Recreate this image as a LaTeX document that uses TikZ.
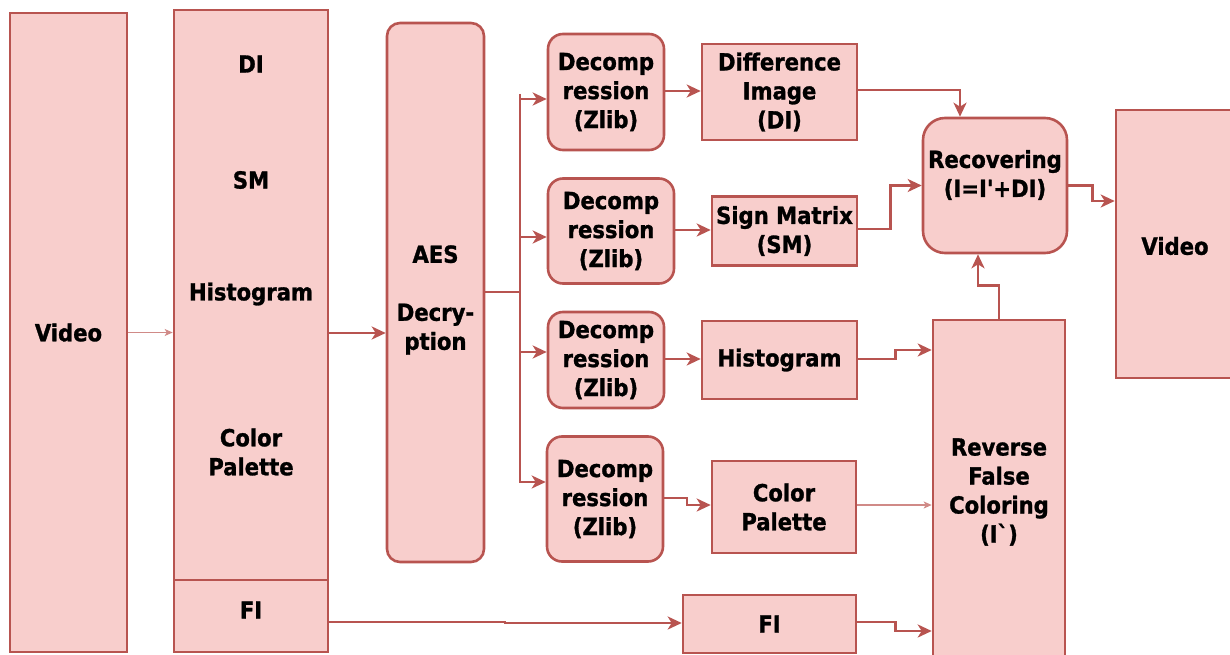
\documentclass[tikz,border=0pt]{standalone}
\usepackage{fontspec}
\newfontfamily\djfont{DejaVu Sans Condensed}[BoldFeatures={FakeBold=1.2}]
\usetikzlibrary{arrows.meta}
\definecolor{fillc}{HTML}{F8CECC}
\definecolor{linec}{HTML}{B85450}
\definecolor{thinc}{HTML}{D08A87}
\begin{document}
\begin{tikzpicture}[x=1pt,y=-1pt,
  every node/.style={font=\djfont\fontsize{23.5}{29}\selectfont\bfseries, align=center, inner sep=0pt},
  rbox/.style={draw=linec, fill=fillc, line width=2.6pt},
  rrbox/.style={rbox, rounded corners=15pt},
  conn/.style={draw=linec, line width=2.6pt, -{Stealth[length=14pt,width=13pt,inset=4pt]}},
  plain/.style={draw=linec, line width=2.6pt},
  thinconn/.style={draw=thinc, line width=1.2pt, -{Stealth[length=8pt,width=7pt,inset=2pt]}}]
\useasboundingbox (0,0) rectangle (1230,655);
\clip (0,0) rectangle (1230,655);
% left video
\node[rbox, minimum width=117pt, minimum height=639pt] (vin) at (68.5,332.5) {Video};
% source stack
\node[rbox, minimum width=154pt, minimum height=570pt] (src) at (251,295) {};
\node[rbox, minimum width=154pt, minimum height=72pt] (fi) at (251,616) {};
\node (fit) at (251,610) {FI};
\node (ldi) at (251,64) {DI};
\node (lsm) at (251,180) {SM};
\node (lhi) at (251,294) {Histogram};
\node (lcp) at (251,452) {Color\\Palette};
% AES
\node[rrbox, rounded corners=13pt, minimum width=97pt, minimum height=539pt] (aes) at (435.5,292.5) {};
\node (aest) at (435.5,300) {AES\\[29pt]Decry-\\ption};
% decompression
\node[rrbox, minimum width=116pt, minimum height=116pt] (d1) at (606,92) {Decomp\\ression\\(Zlib)};
\node[rrbox, minimum width=126pt, minimum height=105pt] (d2) at (611,231) {Decomp\\ression\\(Zlib)};
\node[rrbox, minimum width=116pt, minimum height=96pt] (d3) at (606,360) {Decomp\\ression\\(Zlib)};
\node[rrbox, minimum width=116pt, minimum height=125pt] (d4) at (605,499) {Decomp\\ression\\(Zlib)};
% outputs
\node[rbox, minimum width=155pt, minimum height=96pt] (di) at (779.5,92) {Difference\\Image\\(DI)};
\node[rbox, minimum width=145pt, minimum height=69pt] (sm) at (784.5,231) {Sign Matrix\\(SM)};
\node[rbox, minimum width=155pt, minimum height=78pt] (hist) at (779.5,360) {Histogram};
\node[rbox, minimum width=144pt, minimum height=92pt] (cp) at (784,507) {Color\\Palette};
\node[rbox, minimum width=173pt, minimum height=58pt] (fi2) at (769.5,624) {FI};
% recovering
\node[rrbox, rounded corners=22pt, minimum width=144pt, minimum height=135pt] (rec) at (995,185.5) {};
\node (rect) at (995,175) {Recovering\\(I=I'+DI)};
% reverse false coloring
\node[rbox, minimum width=132pt, minimum height=350pt] (rfc) at (999,495) {};
\node (rfct) at (999,492) {Reverse\\False\\Coloring\\(I`)};
% output video
\node[rbox, minimum width=115pt, minimum height=268pt] (vout) at (1173.5,244) {};
\node (voutt) at (1175,246) {Video};
% connectors
\coordinate (bus) at (520,292);
\draw[thinconn] (vin.east) -- (vin.east -| src.west);
\draw[conn] (src.east |- 0,333) -- (aes.west |- 0,333);
\draw[plain] (aes.east |- bus) -- (bus);
\draw[plain] (520,94) -- (520,99);
\draw[conn] (bus) |- (d1.west |- 0,99);
\draw[conn] (bus) |- (d2.west |- 0,237);
\draw[conn] (bus) |- (d3.west |- 0,352);
\draw[conn] (bus) |- (d4.west |- 0,482);
\draw[conn] (d1.east |- 0,91) -- (di.west |- 0,91);
\draw[conn] (d2.east |- 0,230) -- (sm.west |- 0,230);
\draw[conn] (d3.east |- 0,359) -- (hist.west |- 0,359);
\draw[conn] (d4.east |- 0,498) -- (687,498) |- (cp.west |- 0,505);
\draw[conn] (di.east |- 0,90) -| ([xshift=-35pt]rec.north);
\draw[conn] (sm.east |- 0,229) -- ++(32,0) |- (rec.west);
\draw[conn] (rec.east) -- ++(24,0) |- ([yshift=43pt]vout.west);
\draw[conn] (rfc.north) -- ++(0,-33) -| ([xshift=-17pt]rec.south);
\draw[conn] (hist.east |- 0,359) -- ++(37,0) |- (rfc.west |- 0,350);
\draw[thinconn] (cp.east |- 0,505) -- (rfc.west |- 0,505);
\draw[conn] (fi.east |- 0,622) -- (505,622) -- (505,623) -- (fi2.west |- 0,623);
\draw[conn] (fi2.east |- 0,622) -- ++(38,0) |- (rfc.west |- 0,631);
\end{tikzpicture}
\end{document}
